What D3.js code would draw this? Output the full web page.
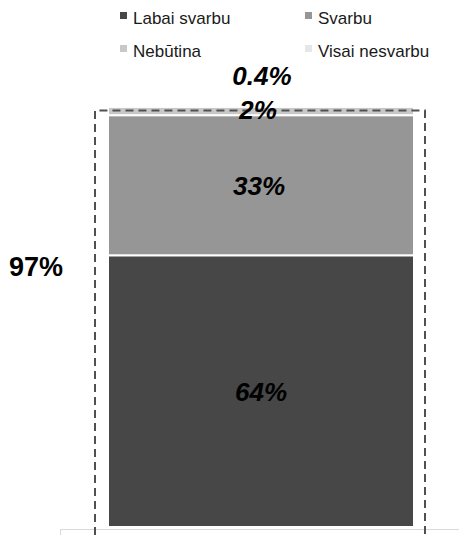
<!DOCTYPE html>
<html><head><meta charset="utf-8">
<script src="https://cdn.jsdelivr.net/npm/d3@7"></script>
<style>body{margin:0;background:#fff}svg{display:block}</style>
</head><body>
<script>
const categories = ["Total"];
const seriesNames = ["Labai svarbu", "Svarbu", "Nebūtina", "Visai nesvarbu"];
const seriesValues = [64, 33, 2, 0.4];
const seriesLabels = ["64%", "33%", "2%", "0.4%"];
const seriesColors = ["#474747", "#969696", "#c8c8c8", "#e6e6e6"];
const groupLabel = "97%";

const W = 459, H = 538;
const svg = d3.select("body").append("svg").attr("width", W).attr("height", H);
const font = "Arial, 'Liberation Sans', sans-serif";

const total = d3.sum(seriesValues);
const y = d3.scaleLinear().domain([0, total]).range([527, 105]);
const x = d3.scaleBand().domain(categories).range([60, 462]).padding(0.1356);

let acc = 0;
const segs = seriesValues.map((v, i) => { const s = {i, v, y0: acc, y1: acc + v}; acc += v; return s; });

// axis baseline
svg.append("line").attr("x1", 60).attr("x2", W).attr("y1", 529.5).attr("y2", 529.5)
  .attr("stroke", "#d9d9d9").attr("stroke-width", 1);
svg.append("line").attr("x1", 60.5).attr("x2", 60.5).attr("y1", 529).attr("y2", 535)
  .attr("stroke", "#d9d9d9").attr("stroke-width", 1);

// bars
categories.forEach(c => {
  svg.selectAll("rect.seg").data(segs).join("rect").attr("class", "seg")
    .attr("x", x(c)).attr("width", x.bandwidth())
    .attr("y", d => y(d.y1)).attr("height", d => Math.max(0, y(d.y0) - y(d.y1)))
    .attr("fill", d => seriesColors[d.i])
    .attr("stroke", "#fff").attr("stroke-width", 2);
});

// dashed grouping rectangle
const bx = x(categories[0]), bw = x.bandwidth();
const dTop = y(seriesValues[0] + seriesValues[1] + seriesValues[2] / 2) - 0.5;
svg.append("path")
  .attr("d", `M${bx - 13},${H + 10} L${bx - 13},${dTop} L${bx + bw + 11},${dTop} L${bx + bw + 11},${H + 10}`)
  .attr("fill", "none").attr("stroke", "#505050").attr("stroke-width", 2)
  .attr("stroke-dasharray", "8,5");

// segment labels
const cx = bx + bw / 2;
const lbl = svg.append("g").attr("font-family", font).attr("font-weight", "bold")
  .attr("font-style", "italic").attr("font-size", 26).attr("text-anchor", "middle").attr("fill", "#000");
lbl.append("text").attr("x", cx).attr("y", (y(segs[0].y0) + y(segs[0].y1)) / 2 + 10).text(seriesLabels[0]);
lbl.append("text").attr("x", cx - 2).attr("y", (y(segs[1].y0) + y(segs[1].y1)) / 2 + 10).text(seriesLabels[1]);
lbl.append("text").attr("x", cx - 3).attr("y", (y(segs[2].y0) + y(segs[2].y1)) / 2 + 8).text(seriesLabels[2]);
lbl.append("text").attr("x", cx + 1).attr("y", y(segs[3].y1) - 20).text(seriesLabels[3]);

// group label
svg.append("text").attr("x", 36).attr("y", 276).attr("text-anchor", "middle")
  .attr("font-family", font).attr("font-weight", "bold").attr("font-size", 27).text(groupLabel);

// legend
const legPos = [[120, 12], [305, 12], [120, 45], [305, 45]];
const leg = svg.append("g").attr("font-family", font).attr("font-size", 17).attr("fill", "#1a1a1a");
seriesNames.forEach((n, i) => {
  leg.append("rect").attr("x", legPos[i][0]).attr("y", legPos[i][1]).attr("width", 7).attr("height", 7)
    .attr("fill", seriesColors[i]);
  leg.append("text").attr("x", legPos[i][0] + 13).attr("y", legPos[i][1] + 12).text(n);
});
</script>
</body></html>
